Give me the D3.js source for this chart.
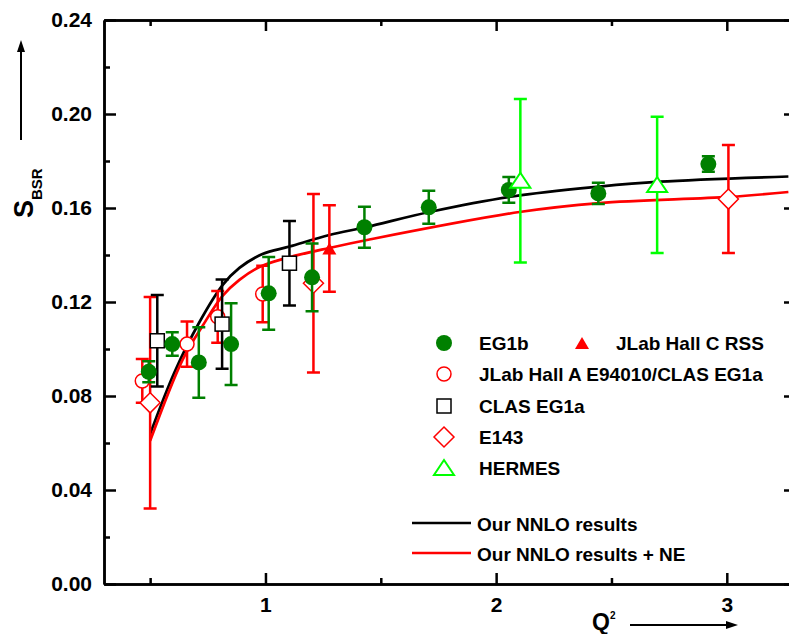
<!DOCTYPE html>
<html>
<head>
<meta charset="utf-8">
<script src="https://cdn.jsdelivr.net/npm/d3@7"></script>
<style>
    body { margin: 0; background: #fff; }
    svg { display: block; font-family: "Liberation Sans", Arial, sans-serif; font-weight: bold; }
    .axis path, .axis line { stroke: #000; stroke-width: 2.5; }
    .axis text { font-size: 21px; font-weight: bold; font-family: "Liberation Sans", Arial, sans-serif; fill: #000; }
    .err { fill: none; stroke-width: 2.5; }
    .curve { fill: none; stroke-width: 2.7; }
    .legend text { font-size: 19px; fill: #000; }
</style>
</head>
<body>
<div id="chart"></div>
<script>
    // data: Q^2 (GeV^2), S_BSR and error
    var eg1bQ2 = [0.494, 0.596, 0.711, 0.851, 1.014, 1.202, 1.429, 1.708, 2.055, 2.443, 2.92];
    var eg1bS = [0.0903, 0.1021, 0.0943, 0.1021, 0.1237, 0.1305, 0.1518, 0.1603, 0.1677, 0.1662, 0.1787];
    var eg1bErr = [0.0045, 0.005, 0.015, 0.0174, 0.0155, 0.0144, 0.0087, 0.007, 0.0055, 0.0045, 0.0033];

    var hallAQ2 = [0.466, 0.66, 0.793, 0.988];
    var hallAS = [0.0864, 0.1021, 0.1137, 0.1234];
    var hallAErr = [0.0093, 0.0096, 0.011, 0.012];

    var clasQ2 = [0.531, 0.812, 1.104];
    var clasS = [0.1035, 0.1106, 0.1365];
    var clasErr = [0.0195, 0.019, 0.018];

    var e143Q2 = [0.5, 1.208, 3.007];
    var e143S = [0.0771, 0.128, 0.1638];
    var e143Err = [0.045, 0.038, 0.023];

    var rssQ2 = [1.277];
    var rssS = [0.1428];
    var rssErr = [0.0184];

    var hermesQ2 = [2.105, 2.698];
    var hermesS = [0.1716, 0.1698];
    var hermesErr = [0.0348, 0.029];

    // theory curves
    var nnloQ2 = [0.5, 0.606, 0.714, 0.814, 0.887, 0.987, 1.104, 1.277, 1.438, 1.711, 2.071, 2.448, 2.708, 3.267];
    var nnloS = [0.0638, 0.0902, 0.1115, 0.1272, 0.1345, 0.1404, 0.1436, 0.1485, 0.1519, 0.1583, 0.1649, 0.1691, 0.1712, 0.1734];
    var nnloNeQ2 = [0.5, 0.640, 0.727, 0.814, 0.887, 0.974, 1.091, 1.277, 1.451, 2.101, 2.448, 3.011, 3.267];
    var nnloNeS = [0.0609, 0.0953, 0.1098, 0.1226, 0.1294, 0.1349, 0.1387, 0.143, 0.1466, 0.1583, 0.1621, 0.1647, 0.1668];

    var xMajor = [1, 2, 3];
    var xMinor = [0.5, 1.5, 2.5];
    var yMajor = [0, 0.04, 0.08, 0.12, 0.16, 0.20, 0.24];
    var yMinor = [0.02, 0.06, 0.10, 0.14, 0.18, 0.22];

    var W = 789, H = 634;
    var plot = {left: 104, right: 796, top: 20, bottom: 584};

    var svg = d3.select("#chart").append("svg")
        .attr("width", W)
        .attr("height", H);

    var x = d3.scaleLinear().domain([0.3, 3.3]).range([plot.left, plot.right]);
    var y = d3.scaleLinear().domain([0, 0.24]).range([plot.bottom, plot.top]);

    var red = "#ff0000", green = "#008000", lime = "#00ff00";

    // curves
    function zip(a, b) {
        return a.map(function (d, i) { return [d, b[i]]; });
    }
    var line = d3.line()
        .x(function (d) { return x(d[0]); })
        .y(function (d) { return y(d[1]); })
        .curve(d3.curveCatmullRom.alpha(0.5));
    svg.append("path").attr("class", "curve").attr("stroke", "#000")
        .attr("d", line(zip(nnloQ2, nnloS)));
    svg.append("path").attr("class", "curve").attr("stroke", red)
        .attr("d", line(zip(nnloNeQ2, nnloNeS)));

    // markers
    function marker(g, type, cx, cy) {
        if (type == "fcircle") {
            g.append("circle").attr("cx", cx).attr("cy", cy).attr("r", 8).attr("fill", green);
        } else if (type == "ocircle") {
            g.append("circle").attr("cx", cx).attr("cy", cy).attr("r", 7)
                .attr("fill", "#fff").attr("stroke", red).attr("stroke-width", 1.5);
        } else if (type == "square") {
            g.append("rect").attr("x", cx - 7).attr("y", cy - 7).attr("width", 14).attr("height", 14)
                .attr("fill", "#fff").attr("stroke", "#000").attr("stroke-width", 1.5);
        } else if (type == "diamond") {
            g.append("path")
                .attr("d", "M" + cx + "," + (cy - 10) + "L" + (cx + 10) + "," + cy + "L" + cx + "," + (cy + 10) + "L" + (cx - 10) + "," + cy + "Z")
                .attr("fill", "#fff").attr("stroke", red).attr("stroke-width", 1.5);
        } else if (type == "ftri") {
            g.append("path")
                .attr("d", "M" + cx + "," + (cy - 6) + "L" + (cx + 7) + "," + (cy + 6) + "L" + (cx - 7) + "," + (cy + 6) + "Z")
                .attr("fill", red);
        } else if (type == "otri") {
            g.append("path")
                .attr("d", "M" + cx + "," + (cy - 8) + "L" + (cx + 10) + "," + (cy + 7) + "L" + (cx - 10) + "," + (cy + 7) + "Z")
                .attr("fill", "#fff").attr("stroke", lime).attr("stroke-width", 2);
        }
    }

    var series = [
        {name: "JLab Hall A E94010/CLAS EG1a", q: hallAQ2, s: hallAS, e: hallAErr, type: "ocircle", color: red},
        {name: "E143", q: e143Q2, s: e143S, e: e143Err, type: "diamond", color: red},
        {name: "CLAS EG1a", q: clasQ2, s: clasS, e: clasErr, type: "square", color: "#000"},
        {name: "EG1b", q: eg1bQ2, s: eg1bS, e: eg1bErr, type: "fcircle", color: green},
        {name: "JLab Hall C RSS", q: rssQ2, s: rssS, e: rssErr, type: "ftri", color: red},
        {name: "HERMES", q: hermesQ2, s: hermesS, e: hermesErr, type: "otri", color: lime}
    ];

    series.forEach(function (sr) {
        var g = svg.append("g");
        sr.q.forEach(function (q, i) {
            var cx = x(q), y1 = y(sr.s[i] + sr.e[i]), y0 = y(sr.s[i] - sr.e[i]);
            g.append("path").attr("class", "err").attr("stroke", sr.color)
                .attr("d", "M" + cx + "," + y1 + "V" + y0 +
                    "M" + (cx - 6.5) + "," + y1 + "H" + (cx + 6.5) +
                    "M" + (cx - 6.5) + "," + y0 + "H" + (cx + 6.5));
        });
        sr.q.forEach(function (q, i) {
            marker(g, sr.type, x(q), y(sr.s[i]));
        });
    });

    // axes, ticks pointing inward on all four sides
    svg.append("g").attr("class", "axis")
        .attr("transform", "translate(" + plot.left + ",0)")
        .call(d3.axisLeft(y).tickValues(yMajor).tickSizeInner(-12).tickSizeOuter(0)
            .tickPadding(12).tickFormat(d3.format(".2f")));
    svg.append("g").attr("class", "axis")
        .attr("transform", "translate(" + plot.left + ",0)")
        .call(d3.axisLeft(y).tickValues(yMinor).tickSizeInner(-6).tickSizeOuter(0).tickFormat(""));
    svg.append("g").attr("class", "axis")
        .attr("transform", "translate(" + plot.right + ",0)")
        .call(d3.axisRight(y).tickValues(yMajor).tickSizeInner(-12).tickSizeOuter(0).tickFormat(""));
    svg.append("g").attr("class", "axis")
        .attr("transform", "translate(" + plot.right + ",0)")
        .call(d3.axisRight(y).tickValues(yMinor).tickSizeInner(-6).tickSizeOuter(0).tickFormat(""));
    svg.append("g").attr("class", "axis")
        .attr("transform", "translate(0," + plot.bottom + ")")
        .call(d3.axisBottom(x).tickValues(xMajor).tickSizeInner(-11).tickSizeOuter(0)
            .tickPadding(13).tickFormat(d3.format("d")));
    svg.append("g").attr("class", "axis")
        .attr("transform", "translate(0," + plot.bottom + ")")
        .call(d3.axisBottom(x).tickValues(xMinor).tickSizeInner(-6).tickSizeOuter(0).tickFormat(""));
    svg.append("g").attr("class", "axis")
        .attr("transform", "translate(0," + plot.top + ")")
        .call(d3.axisTop(x).tickValues(xMajor).tickSizeInner(-11).tickSizeOuter(0).tickFormat(""));
    svg.append("g").attr("class", "axis")
        .attr("transform", "translate(0," + plot.top + ")")
        .call(d3.axisTop(x).tickValues(xMinor).tickSizeInner(-6).tickSizeOuter(0).tickFormat(""));

    // y title with arrow
    var yt = svg.append("text").attr("transform", "translate(33,218) rotate(-90)");
    yt.append("tspan").attr("font-size", 27).text("S");
    yt.append("tspan").attr("font-size", 15).attr("dy", 9).text("BSR");
    svg.append("line").attr("x1", 21).attr("y1", 140).attr("x2", 21).attr("y2", 48)
        .attr("stroke", "#000").attr("stroke-width", 2);
    svg.append("path").attr("d", "M21,40L25,52L17,52Z").attr("fill", "#000");

    // x title with arrow
    var xt = svg.append("text").attr("x", 592).attr("y", 630);
    xt.append("tspan").attr("font-size", 23).text("Q");
    xt.append("tspan").attr("font-size", 10).attr("dy", -11).text("2");
    svg.append("line").attr("x1", 630).attr("y1", 625).attr("x2", 728).attr("y2", 625)
        .attr("stroke", "#000").attr("stroke-width", 2);
    svg.append("path").attr("d", "M738,625L726,621L726,629Z").attr("fill", "#000");

    // legend
    var leg = svg.append("g").attr("class", "legend");
    var rows = [
        {s: series[3], mx: 444, my: 343, tx: 479},
        {s: series[4], mx: 582, my: 343, tx: 616},
        {s: series[0], mx: 444, my: 374, tx: 479},
        {s: series[2], mx: 444, my: 406, tx: 479},
        {s: series[1], mx: 444, my: 437, tx: 479},
        {s: series[5], mx: 444, my: 468, tx: 479}
    ];
    rows.forEach(function (r) {
        marker(leg, r.s.type, r.mx, r.my);
        leg.append("text").attr("x", r.tx).attr("y", r.my + 7).text(r.s.name);
    });
    var lines = [
        {name: "Our NNLO results", color: "#000", y: 523},
        {name: "Our NNLO results + NE", color: red, y: 553}
    ];
    lines.forEach(function (l) {
        leg.append("line").attr("x1", 412).attr("x2", 471).attr("y1", l.y).attr("y2", l.y)
            .attr("stroke", l.color).attr("stroke-width", 2.5);
        leg.append("text").attr("x", 477).attr("y", l.y + 8).text(l.name);
    });
</script>
</body>
</html>
